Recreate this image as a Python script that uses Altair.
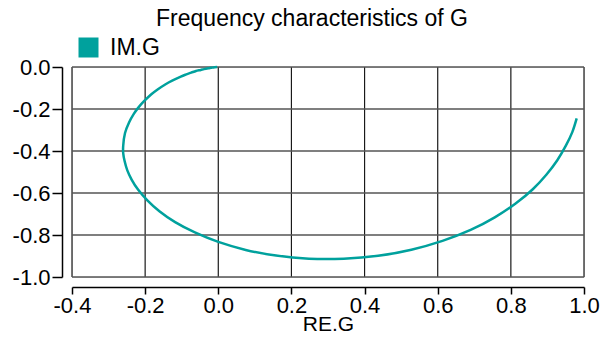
import altair as alt
import pandas as pd

# Nyquist curve points (RE.G, IM.G)
re_vals = [0.980, 0.968, 0.950, 0.927, 0.897, 0.860, 0.813, 0.756, 0.690, 0.613,
           0.528, 0.437, 0.343, 0.248, 0.158, 0.075, 0.000, -0.064, -0.118, -0.161,
           -0.194, -0.219, -0.237, -0.249, -0.256, -0.260, -0.260, -0.255, -0.244,
           -0.231, -0.217, -0.203, -0.183, -0.165, -0.144, -0.126, -0.104, -0.092,
           -0.074, -0.061, -0.048, -0.039, -0.027, -0.020, -0.010, -0.003]
im_vals = [-0.245, -0.310, -0.376, -0.444, -0.513, -0.582, -0.650, -0.716, -0.776, -0.828,
           -0.870, -0.899, -0.913, -0.913, -0.898, -0.871, -0.833, -0.788, -0.739, -0.687,
           -0.635, -0.585, -0.536, -0.491, -0.449, -0.410, -0.375, -0.314, -0.264,
           -0.223, -0.190, -0.163, -0.130, -0.106, -0.082, -0.065, -0.047, -0.038,
           -0.027, -0.019, -0.014, -0.010, -0.006, -0.004, -0.001, 0.000]
series_name = "IM.G"
x_ticks = [-0.4, -0.2, 0.0, 0.2, 0.4, 0.6, 0.8, 1.0]
y_ticks = [0.0, -0.2, -0.4, -0.6, -0.8, -1.0]

TEAL = "#00a19d"
FONT = "Liberation Sans"

df = pd.DataFrame({"re": re_vals, "im": im_vals, "idx": list(range(len(re_vals))),
                   "series": [series_name] * len(re_vals)})

xscale = alt.Scale(domain=[-0.4, 1.0], nice=False, zero=False)
yscale = alt.Scale(domain=[-1.0, 0.0], nice=False, zero=False)

label_expr = "(datum.value < -0.00001 ? '-' : '') + format(abs(datum.value), '.1f')"

x_axis = alt.Axis(values=x_ticks, offset=10, grid=False, labelExpr=label_expr,
                  domainColor="black", domainWidth=1.5, tickColor="black", tickSize=7,
                  tickWidth=1.5, labelFontSize=22, labelFont=FONT, labelColor="black",
                  labelPadding=1, labelFlush=False, labelOverlap=False,
                  title="RE.G", titleFontSize=21, titleFont=FONT, titleFontWeight="normal",
                  titleColor="black", titlePadding=-3)
y_axis = alt.Axis(values=y_ticks, offset=10, grid=False, labelExpr=label_expr,
                  domainColor="black", domainWidth=1.5, tickColor="black", tickSize=10,
                  tickWidth=1.5, labelFontSize=22, labelFont=FONT, labelColor="black",
                  labelPadding=2, labelFlush=False, labelOverlap=False, title=None)

vgrid = alt.Chart(pd.DataFrame({"re": x_ticks})).mark_rule(color="#1a1a1a", strokeWidth=1.2).encode(
    x=alt.X("re:Q", scale=xscale, axis=x_axis))
hgrid = alt.Chart(pd.DataFrame({"im": y_ticks})).mark_rule(color="#555555", strokeWidth=1.5).encode(
    y=alt.Y("im:Q", scale=yscale, axis=y_axis))

line = alt.Chart(df).mark_line(strokeWidth=2.5, interpolate="catmull-rom").encode(
    x=alt.X("re:Q", scale=xscale, axis=x_axis),
    y=alt.Y("im:Q", scale=yscale, axis=y_axis),
    order=alt.Order("idx:Q"),
    color=alt.Color("series:N", scale=alt.Scale(range=[TEAL]),
                    legend=alt.Legend(orient="none", legendX=5, legendY=-31, title=None,
                                      symbolType="square", symbolSize=400,
                                      symbolFillColor=TEAL, symbolStrokeColor=TEAL,
                                      symbolStrokeWidth=0, labelFontSize=23, labelFont=FONT,
                                      labelColor="black", labelOffset=10, padding=0)),
)

chart = alt.layer(vgrid, hgrid, line).properties(
    width=512, height=210,
    autosize="none",
    padding={"left": 64, "top": 59, "right": 18, "bottom": 58},
    title=alt.Title("Frequency characteristics of G", fontSize=23, fontWeight="normal",
                    font=FONT, color="black", anchor="middle", dx=-16, offset=-13,
                    baseline="alphabetic"),
).configure_view(stroke="black", strokeWidth=2.5).configure(background="white")

chart.save("out.html", embed_options={"renderer": "svg", "actions": False})
